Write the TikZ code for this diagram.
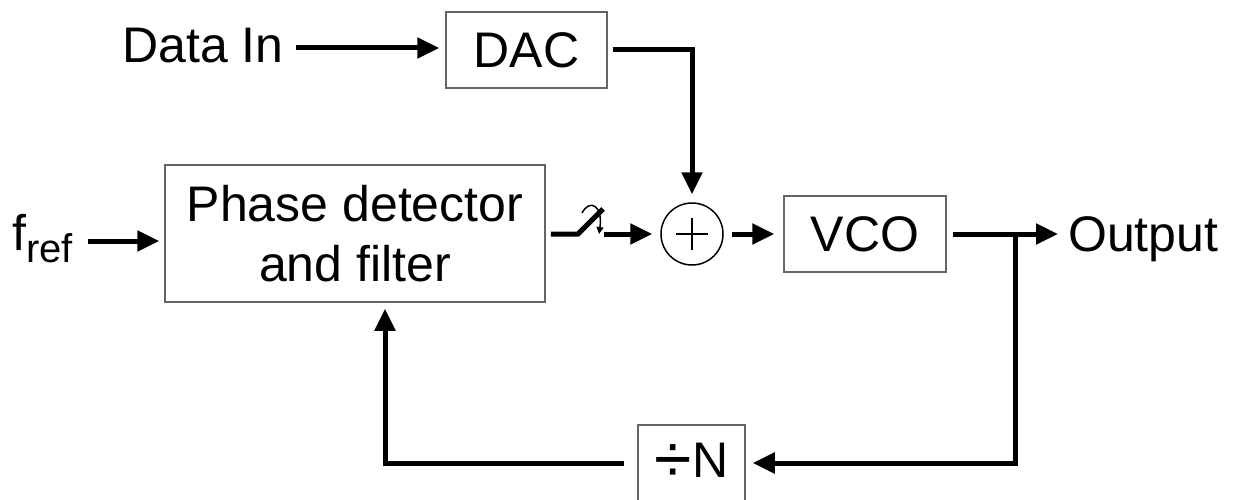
\documentclass[tikz,border=0pt]{standalone}
\usepackage{fontspec}
\setmainfont{Liberation Sans}
\usetikzlibrary{arrows.meta}
\begin{document}
\begin{tikzpicture}[x=1pt,y=-1pt,
  block/.style={draw=black!60, line width=1.5pt, inner sep=0pt, font=\fontsize{50}{60}\selectfont},
  lbl/.style={inner sep=0pt, font=\fontsize{50}{60}\selectfont},
  wire/.style={line width=5pt},
  arr/.style={wire, -{Triangle[length=22pt,width=20pt]}}]
\useasboundingbox (0,0) rectangle (1236,500);
% blocks
\node[block, minimum width=161, minimum height=76] (dac) at (526.5,50) {DAC};
\node[block, minimum width=380, minimum height=137, align=center] (pd) at (355,233.5) {Phase detector\\and filter};
\node[block, minimum width=162, minimum height=76] (vco) at (865,234) {VCO};
\node[block, minimum width=107, minimum height=76] (div) at (691.5,463) {\raisebox{-5pt}{\fontsize{68}{68}\selectfont ÷}N};
\node[draw=black, line width=1.5pt, circle, minimum size=62, inner sep=0pt] (sum) at (692,234) {};
\draw[line width=1.5pt] ([xshift=-16]sum.center) -- ([xshift=16]sum.center)
                        ([yshift=-16]sum.center) -- ([yshift=16]sum.center);
% labels
\node[lbl, anchor=base west] (din) at (122,63) {Data In};
\node[lbl, anchor=base west] (fref) at (12,250) {f\raisebox{-12pt}{\fontsize{40}{48}\selectfont ref}};
\node[lbl, anchor=base west] (out) at (1068,251) {Output};
% coordinates
\coordinate (swa) at (578,234);
\coordinate (swb) at (603,209);
\coordinate (br) at (1015,234);
\coordinate (fb) at (385,463);
% connectors
\draw[arr, shorten >=6pt] ([xshift=12]din.east |- 0,48) -- (dac.west |- 0,48);
\draw[arr, shorten <=5pt, shorten >=8pt] (dac.east) -| (sum.north);
\draw[arr, shorten <=6pt] (82,241) -- ([xshift=-5]pd.west |- 0,241);
\draw[wire] ([xshift=5]pd.east |- swa) -- (swa) -- (swb);
\draw[line width=1.5pt, -{Triangle[length=7pt,width=7pt]}] (582,213) .. controls (590,198) and (603,206) .. (599,234);
\draw[arr, shorten >=8pt] (604,234) -- (sum.west);
\draw[arr, shorten <=8pt, shorten >=9pt] (sum.east) -- (vco.west);
\draw[wire, shorten <=6pt] (vco.east) -- (br);
\draw[arr, shorten >=10pt] (br) -- (out.west |- br);
\draw[arr, shorten >=7pt] (br) |- (div.east);
\draw[arr, shorten <=13pt, shorten >=6pt] (div.west) -- (fb) -- (fb |- pd.south);
\end{tikzpicture}
\end{document}
